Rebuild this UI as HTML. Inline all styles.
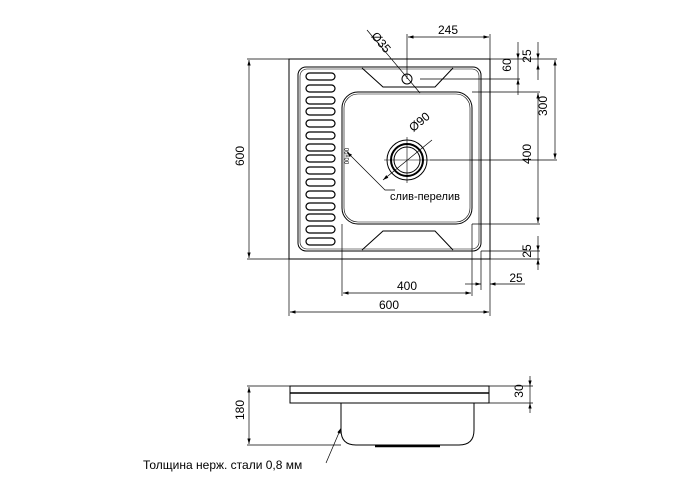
<!DOCTYPE html>
<html><head><meta charset="utf-8"><style>body{margin:0;background:#fff}svg{display:block}</style></head><body>
<svg width="700" height="500" viewBox="0 0 700 500" xmlns="http://www.w3.org/2000/svg" font-family="Liberation Sans, sans-serif" fill="none" stroke="#000">
<defs><marker id="a" viewBox="0 0 10 6" refX="10" refY="3" markerWidth="8" markerHeight="5" orient="auto-start-reverse"><path d="M0,0L10,3L0,6z" fill="#000" stroke="none"/></marker></defs>
<g stroke-width="1">
<rect x="289" y="59" width="201" height="200"/>
<rect x="298" y="67" width="183" height="184" rx="8"/>
<rect x="300" y="69" width="179" height="180" rx="7" stroke-width="0.6"/>
<rect x="342" y="92" width="130" height="132" rx="16"/>
<rect x="344" y="94" width="126" height="128" rx="14" stroke-width="0.6"/>
<path d="M362,68 L383,87 L435,87 L453,68"/>
<path d="M362,250 L383,231 L435,231 L453,250"/>
<circle cx="407" cy="79" r="5"/>
<circle cx="407" cy="160" r="20"/><circle cx="407" cy="160" r="16" stroke-width="2"/><circle cx="407" cy="160" r="13"/>
<path d="M384,160H430M407,137V183" stroke-width="0.6"/>
<path d="M383,180L432,140" stroke-width="0.7" marker-start="url(#a)"/>
<path d="M367,30L420,93" stroke-width="0.7"/>
<path d="M347,152L385,190H395" stroke-width="0.7" marker-start="url(#a)"/>
</g>
<g stroke-width="1.2">
<rect x="306" y="73" width="29" height="7" rx="3.5"/><rect x="306" y="85" width="29" height="7" rx="3.5"/><rect x="306" y="97" width="29" height="7" rx="3.5"/><rect x="306" y="108" width="29" height="7" rx="3.5"/><rect x="306" y="120" width="29" height="7" rx="3.5"/><rect x="306" y="132" width="29" height="7" rx="3.5"/><rect x="306" y="144" width="29" height="7" rx="3.5"/><rect x="306" y="155" width="29" height="7" rx="3.5"/><rect x="306" y="167" width="29" height="7" rx="3.5"/><rect x="306" y="179" width="29" height="7" rx="3.5"/><rect x="306" y="191" width="29" height="7" rx="3.5"/><rect x="306" y="203" width="29" height="7" rx="3.5"/><rect x="306" y="214" width="29" height="7" rx="3.5"/><rect x="306" y="226" width="29" height="7" rx="3.5"/><rect x="306" y="238" width="29" height="7" rx="3.5"/>
</g>
<g stroke-width="0.7">
<path d="M289,59H247M289,259H247"/><path d="M249,60V258" marker-start="url(#a)" marker-end="url(#a)"/>
<path d="M407,79V34M490,59V34"/><path d="M408,37H489" marker-start="url(#a)" marker-end="url(#a)"/>
<path d="M490,59H557M420,79H520M472,92H540M430,160H557M472,224H540M481,251H540M490,259H540"/>
<path d="M518,42V59" marker-end="url(#a)"/><path d="M518,95V79" marker-end="url(#a)"/><path d="M518,59V79"/>
<path d="M538,42V59" marker-end="url(#a)"/><path d="M538,80V64" marker-end="url(#a)"/><path d="M538,59V64"/>
<path d="M555,60V159" marker-start="url(#a)" marker-end="url(#a)"/>
<path d="M538,93V223" marker-start="url(#a)" marker-end="url(#a)"/>
<path d="M538,236V251" marker-end="url(#a)"/><path d="M538,270V259" marker-end="url(#a)"/><path d="M538,251V259"/>
<path d="M342,224V296M472,224V296M481,251V290M490,259V316M289,259V316"/>
<path d="M343,293H471" marker-start="url(#a)" marker-end="url(#a)"/>
<path d="M290,312H489" marker-start="url(#a)" marker-end="url(#a)"/>
<path d="M465,284H481" marker-end="url(#a)"/><path d="M525,284H490" marker-end="url(#a)"/>
</g>
<g fill="#000" stroke="none" font-size="12">
<text x="248" y="160" text-anchor="middle" transform="rotate(-90 244 160)">600</text>
<text x="448" y="34" text-anchor="middle">245</text>
<text x="378" y="45" text-anchor="middle" transform="rotate(50 378 45)">Ø35</text>
<text x="422" y="125" text-anchor="middle" transform="rotate(-40 422 125)">Ø90</text>
<text x="425" y="200" text-anchor="middle" font-size="11">слив-перелив</text>
<text x="353" y="160" text-anchor="middle" font-size="6" transform="rotate(-90 349 160)">00x00</text>
<text x="515" y="69" text-anchor="middle" transform="rotate(-90 511 69)">60</text>
<text x="535" y="60" text-anchor="middle" transform="rotate(-90 531 60)">25</text>
<text x="551" y="110" text-anchor="middle" transform="rotate(-90 547 110)">300</text>
<text x="535" y="158" text-anchor="middle" transform="rotate(-90 531 158)">400</text>
<text x="535" y="255" text-anchor="middle" transform="rotate(-90 531 255)">25</text>
<text x="516" y="282" text-anchor="middle">25</text>
<text x="407" y="290" text-anchor="middle">400</text>
<text x="389" y="309" text-anchor="middle">600</text>
<text x="248" y="414" text-anchor="middle" transform="rotate(-90 244 414)">180</text>
<text x="527" y="395" text-anchor="middle" transform="rotate(-90 523 395)">30</text>
<text x="143" y="469" font-size="12">Толщина нерж. стали 0,8 мм</text>
</g>
<g stroke-width="1">
<rect x="290" y="386" width="199" height="17"/>
<path d="M290,393H489" stroke-width="1.4"/>
<path d="M341,403V430Q341,445 356,445H459Q474,445 474,430V403"/>
<path d="M375,446H440" stroke-width="2.5"/>
</g>
<g stroke-width="0.7">
<path d="M290,386H247M341,445H247"/><path d="M249,387V444" marker-start="url(#a)" marker-end="url(#a)"/>
<path d="M489,386H533M489,403H533"/>
<path d="M530,376V386" marker-end="url(#a)"/><path d="M530,413V403" marker-end="url(#a)"/><path d="M530,386V403"/>
<path d="M326,463L341,428" marker-end="url(#a)"/>
</g>
</svg>
</body></html>
